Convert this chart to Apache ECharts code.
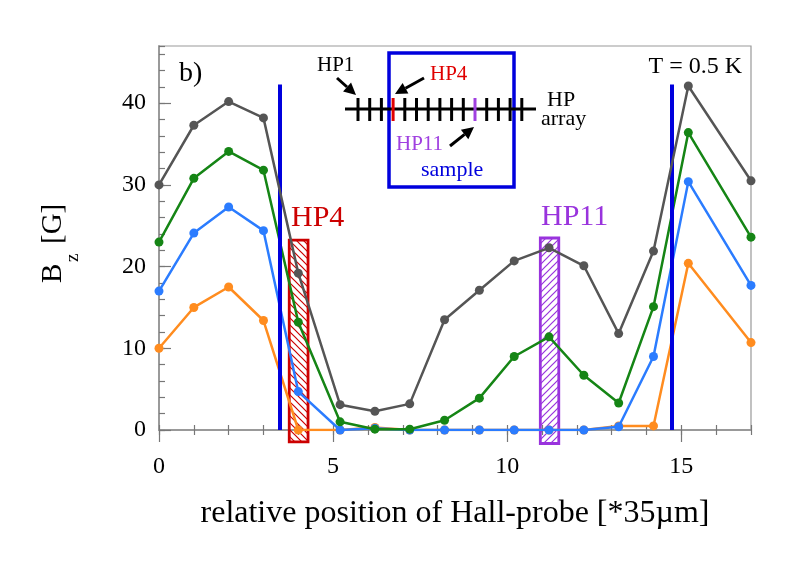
<!DOCTYPE html>
<html>
<head>
<meta charset="utf-8">
<script src="https://cdn.jsdelivr.net/npm/echarts@6/dist/echarts.min.js"></script>
<style>
  html, body { margin: 0; padding: 0; background: #fff; }
  #chart { width: 796px; height: 567px; }
</style>
</head>
<body>
<div id="chart"></div>
<script>
// probe positions (units of 35 um) and Bz readings in gauss
var xPos = [0, 1, 2, 3, 4, 5.2, 6.2, 7.2, 8.2, 9.2, 10.2, 11.2, 12.2, 13.2, 14.2, 15.2, 17];
var grayVals = [30, 37.3, 40.2, 38.2, 19.2, 3.1, 2.3, 3.2, 13.5, 17.1, 20.7, 22.3, 20.1, 11.8, 21.9, 42.1, 30.5];
var greenVals = [23, 30.8, 34.1, 31.8, 13.2, 1.0, 0.1, 0.1, 1.2, 3.9, 9.0, 11.4, 6.7, 3.3, 15.1, 36.4, 23.6];
var blueVals = [17, 24.1, 27.3, 24.4, 4.7, 0, 0.2, 0, 0, 0, 0, 0, 0, 0.4, 9.0, 30.4, 17.7];
var orangeVals = [10, 15, 17.5, 13.4, 0, 0, 0.3, 0, 0, 0, 0, 0, 0, 0.5, 0.5, 20.4, 10.7];

// sample edges (x) and the height of the blue markers
var sampleEdges = [3.47, 14.72];
var sampleTop = 42.3;

// hatched probe boxes: [xFrom, xTo, yFrom, yTo]
var probeBoxes = [[3.74, 4.28, -1.45, 23.25], [10.95, 11.48, -1.65, 23.5]];
var probeNames = ['HP4', 'HP11'];

var FONT = '"Liberation Serif", "Times New Roman", serif';
var COLORS = {
    gray: '#555555',
    green: '#158515',
    blue: '#2b7cff',
    orange: '#ff8c1f',
    edge: '#0000dd',
    hp4: '#cc0000',
    hp11: '#9933dd'
};

function pairs(ys) {
    return ys.map(function (y, i) { return [xPos[i], y]; });
}

function hatch(color, forward) {
    var c = document.createElement('canvas');
    c.width = 7; c.height = 7;
    var g = c.getContext('2d');
    g.strokeStyle = color;
    g.lineWidth = 1.2;
    g.beginPath();
    if (forward) {
        g.moveTo(-1, 8); g.lineTo(8, -1);
        g.moveTo(-1, 1); g.lineTo(1, -1);
        g.moveTo(6, 8); g.lineTo(8, 6);
    } else {
        g.moveTo(-1, -1); g.lineTo(8, 8);
        g.moveTo(6, -1); g.lineTo(8, 1);
        g.moveTo(-1, 6); g.lineTo(1, 8);
    }
    g.stroke();
    return { image: c, repeat: 'repeat' };
}
var boxStyles = [
    { stroke: COLORS.hp4, fill: hatch(COLORS.hp4, false) },
    { stroke: COLORS.hp11, fill: hatch(COLORS.hp11, true) }
];

function arrow(x1, y1, x2, y2) {
    var a = Math.atan2(y2 - y1, x2 - x1), L = 12, W = 6;
    var bx = x2 - L * Math.cos(a), by = y2 - L * Math.sin(a);
    return [
        { type: 'line', shape: { x1: x1, y1: y1, x2: bx, y2: by }, style: { stroke: '#000', lineWidth: 3 } },
        { type: 'polygon', shape: { points: [[x2, y2], [bx + W * Math.sin(a), by - W * Math.cos(a)], [bx - W * Math.sin(a), by + W * Math.cos(a)]] }, style: { fill: '#000' } }
    ];
}

function txt(x, y, s, size, color, align) {
    return { type: 'text', x: x, y: y, style: { text: s, font: size + 'px ' + FONT, fill: color || '#000', align: align || 'left', verticalAlign: 'middle' } };
}

// inset: Hall probe array over the sample
var inset = [];
inset.push({ type: 'rect', shape: { x: 389, y: 53, width: 125, height: 134 }, style: { fill: 'none', stroke: COLORS.edge, lineWidth: 3.5 } });
inset.push({ type: 'line', shape: { x1: 345, y1: 109, x2: 536, y2: 109 }, style: { stroke: '#000', lineWidth: 3 } });
for (var k = 0; k < 15; k++) {
    var tx = 358 + 11.7 * k;
    var col = k === 3 ? '#e00000' : (k === 10 ? '#a040e0' : '#000');
    inset.push({ type: 'line', shape: { x1: tx, y1: 98, x2: tx, y2: 121 }, style: { stroke: col, lineWidth: 3 } });
}
inset = inset.concat(arrow(337, 78, 356, 95), arrow(424, 78, 395, 94), arrow(450, 146, 474, 127));
inset.push(txt(317, 65, 'HP1', 21));
inset.push(txt(430, 74, 'HP4', 21, '#e00000'));
inset.push(txt(396, 144, 'HP11', 21, '#a040e0'));
inset.push(txt(547, 100, 'HP', 22));
inset.push(txt(541, 119, 'array', 22));
inset.push(txt(421, 170, 'sample', 22, COLORS.edge));

var labels = [
    txt(179, 74, 'b)', 28),
    txt(742, 67, 'T = 0.5 K', 24, '#000', 'right'),
    txt(291, 218, 'HP4', 30, COLORS.hp4),
    txt(541, 217, 'HP11', 30, COLORS.hp11),
    {
        type: 'group', x: 53, y: 283, rotation: Math.PI / 2,
        children: [
            { type: 'text', x: 0, y: 0, style: { text: 'B', font: '29px ' + FONT, fill: '#000', verticalAlign: 'middle' } },
            { type: 'text', x: 21, y: 20, style: { text: 'z', font: '19px ' + FONT, fill: '#000', verticalAlign: 'middle' } },
            { type: 'text', x: 39, y: 0, style: { text: '[G]', font: '29px ' + FONT, fill: '#000', verticalAlign: 'middle' } }
        ]
    }
];

var chartDom = document.getElementById('chart');
var myChart = echarts.init(chartDom, null, { renderer: 'canvas' });

var axisGray = '#999999';
function xAx(interval, len, inside, showLabel, extra) {
    return Object.assign({
        type: 'value', position: 'bottom', min: 0, max: 17, interval: interval,
        axisLine: { show: true, onZero: false, lineStyle: { color: axisGray, width: 1.5 } },
        axisTick: { show: true, inside: inside, length: len, lineStyle: { color: '#777', width: 1.2 } },
        axisLabel: { show: showLabel, showMaxLabel: false, margin: 25, fontFamily: FONT, fontSize: 24, color: '#000' },
        splitLine: { show: false }
    }, extra || {});
}
function yAx(interval, len, showLabel) {
    return {
        type: 'value', position: 'left', min: 0, max: 47, interval: interval,
        axisLine: { show: true, onZero: false, lineStyle: { color: axisGray, width: 1.5 } },
        axisTick: { show: true, inside: true, length: len, lineStyle: { color: '#777', width: 1.2 } },
        axisLabel: { show: showLabel, showMaxLabel: false, margin: 13, fontFamily: FONT, fontSize: 24, color: '#000' },
        splitLine: { show: false }
    };
}

function lineSeries(name, vals, color, z) {
    return {
        name: name, type: 'line', data: pairs(vals), z: z,
        symbol: 'circle', symbolSize: 9, showSymbol: true,
        lineStyle: { color: color, width: 2.5 }, itemStyle: { color: color },
        animation: false
    };
}

var option = {
    animation: false,
    grid: { left: 159, right: 45, top: 46, bottom: 137, show: true, borderColor: axisGray, borderWidth: 1.2, outerBoundsMode: 'none' },
    xAxis: [
        xAx(5, 12, false, true, {
            name: 'relative position of Hall-probe [*35\u00b5m]', nameLocation: 'middle', nameGap: 68,
            nameTextStyle: { fontFamily: FONT, fontSize: 32, color: '#000' }
        }),
        xAx(1, 5, true, false),
        xAx(1, 5, false, false)
    ],
    yAxis: [yAx(10, 12, true), yAx(2, 6, false)],
    series: [
        {
            type: 'custom', z: 1, clip: false, silent: true,
            data: probeBoxes,
            renderItem: function (params, api) {
                var p0 = api.coord([api.value(0), api.value(3)]);
                var p1 = api.coord([api.value(1), api.value(2)]);
                var st = boxStyles[params.dataIndex];
                return {
                    type: 'rect',
                    shape: { x: p0[0], y: p0[1], width: p1[0] - p0[0], height: p1[1] - p0[1] },
                    style: { fill: st.fill, stroke: st.stroke, lineWidth: 2.8 }
                };
            }
        },
        lineSeries('orange', orangeVals, COLORS.orange, 2),
        lineSeries('blue', blueVals, COLORS.blue, 3),
        lineSeries('green', greenVals, COLORS.green, 4),
        lineSeries('gray', grayVals, COLORS.gray, 5),
        {
            type: 'line', data: [], z: 6, silent: true,
            markLine: {
                symbol: 'none', silent: true, animation: false,
                label: { show: false },
                lineStyle: { color: COLORS.edge, width: 4, type: 'solid' },
                data: sampleEdges.map(function (x) { return [{ coord: [x, 0] }, { coord: [x, sampleTop] }]; })
            }
        }
    ],
    graphic: inset.concat(labels)
};
myChart.setOption(option);
</script>
</body>
</html>
